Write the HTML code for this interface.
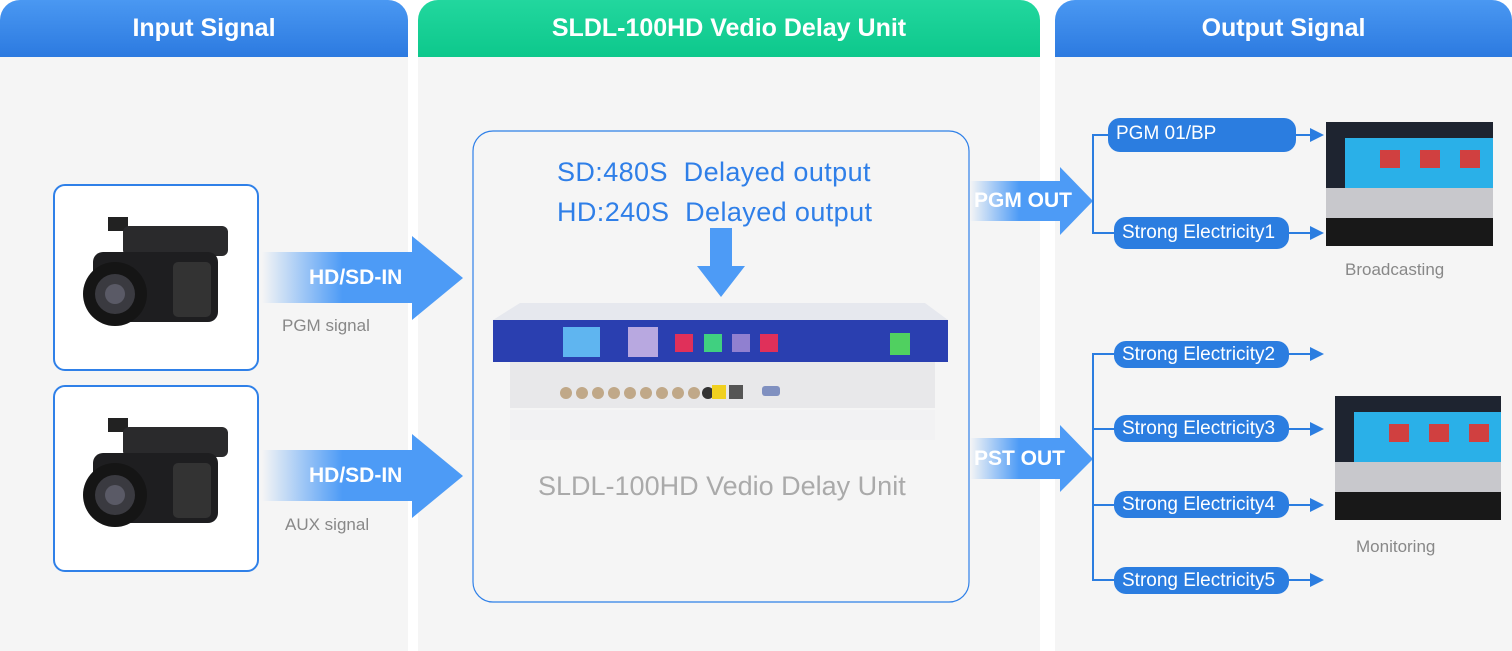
<!DOCTYPE html>
<html><head><meta charset="utf-8"><style>
*{margin:0;padding:0;box-sizing:border-box}
body{width:1512px;height:651px;background:#fff;position:relative;overflow:hidden;font-family:"Liberation Sans",sans-serif}
.a{position:absolute}
.panel{position:absolute;top:0;height:651px;background:#f5f5f5;border-radius:20px 20px 0 0}
.hdr{position:absolute;top:0;left:0;right:0;height:57px;border-radius:20px 20px 0 0;color:#fff;font-weight:bold;font-size:25px;text-align:center;line-height:57px}
.blue{background:linear-gradient(180deg,#4a98f2,#2c7ae0)}
.green{background:linear-gradient(180deg,#22d79e,#0dc88c)}
.cam{position:absolute;left:53px;width:206px;height:187px;border:2px solid #2f80e8;border-radius:12px}
.pill{position:absolute;background:#2b7de0;color:#fff;border-radius:12px;font-size:19px;line-height:32px;padding-left:8px;white-space:nowrap}
.lbl{position:absolute;color:#888;font-size:17px}
.big{position:absolute;color:#fff;font-weight:bold;font-size:21px}
.dt{position:absolute;left:557px;color:#2f7fe8;font-size:27px;letter-spacing:0.4px;white-space:nowrap}
</style></head><body>
<div class="panel" style="left:0;width:408px"><div class="hdr blue">Input Signal</div></div>
<div class="panel" style="left:418px;width:622px"><div class="hdr green">SLDL-100HD Vedio Delay Unit</div></div>
<div class="panel" style="left:1055px;width:457px"><div class="hdr blue">Output Signal</div></div>

<svg class="a" style="left:0;top:0" width="1512" height="651">
<defs>
<linearGradient id="g1" x1="0" x2="1"><stop offset="0" stop-color="#4d9bf6" stop-opacity="0"/><stop offset="0.4" stop-color="#4d9bf6"/><stop offset="1" stop-color="#4d9bf6"/></linearGradient>
<g id="camg">
<rect x="0" y="0" width="206" height="187" rx="12" fill="#fff"/>
<rect x="55" y="33" width="20" height="14" fill="#222"/>
<rect x="70" y="42" width="105" height="30" rx="6" fill="#2a2a2c"/>
<rect x="40" y="68" width="125" height="70" rx="10" fill="#1e1e20"/>
<rect x="120" y="78" width="38" height="55" rx="5" fill="#333"/>
<circle cx="62" cy="110" r="32" fill="#151515"/>
<circle cx="62" cy="110" r="20" fill="#3a3a40"/>
<circle cx="62" cy="110" r="10" fill="#5a5a66"/>
</g>
</defs>
<use href="#camg" x="53" y="184"/>
<use href="#camg" x="53" y="385"/>
<polygon points="262,252 412,252 412,236 463,278 412,320 412,303 262,303" fill="url(#g1)"/>
<polygon points="262,450 412,450 412,434 463,476 412,518 412,501 262,501" fill="url(#g1)"/>
<polygon points="970,181 1060,181 1060,167 1093,201 1060,235 1060,221 970,221" fill="url(#g1)"/>
<polygon points="970,438 1060,438 1060,425 1093,459 1060,492 1060,479 970,479" fill="url(#g1)"/>
<rect x="473" y="131" width="496" height="471" rx="20" fill="none" stroke="#2f80e8" stroke-width="1.2"/>
<rect x="710" y="228" width="22" height="40" fill="#4d9bf6"/>
<polygon points="697,266 745,266 721,297" fill="#4d9bf6"/>
<g stroke="#2b7de0" stroke-width="2" fill="none">
<path d="M1108,135 H1093 V233 H1114"/>
<path d="M1114,354 H1093 V580 H1114 M1093,429 H1114 M1093,505 H1114"/>
<path d="M1296,135 H1312 M1289,233 H1312 M1289,354 H1312 M1289,429 H1312 M1289,505 H1312 M1289,580 H1312"/>
</g>
<g fill="#2b7de0">
<polygon points="1310,128 1324,135 1310,142"/><polygon points="1310,226 1324,233 1310,240"/>
<polygon points="1310,347 1324,354 1310,361"/><polygon points="1310,422 1324,429 1310,436"/>
<polygon points="1310,498 1324,505 1310,512"/><polygon points="1310,573 1324,580 1310,587"/>
</g>
<!-- device -->
<rect x="510" y="360" width="425" height="48" fill="#e8e8ea"/>
<rect x="510" y="410" width="425" height="30" fill="#f0f0f2" opacity="0.6"/>
<polygon points="520,303 925,303 948,320 493,320" fill="#e6e8ee"/>
<rect x="493" y="320" width="455" height="42" fill="#2a3fb0"/>
<rect x="563" y="327" width="37" height="30" fill="#5fb5f0"/>
<rect x="628" y="327" width="30" height="30" fill="#b8a8e0"/>
<rect x="675" y="334" width="18" height="18" fill="#e0305a"/>
<rect x="704" y="334" width="18" height="18" fill="#40d080"/>
<rect x="732" y="334" width="18" height="18" fill="#9080d0"/>
<rect x="760" y="334" width="18" height="18" fill="#e0305a"/>
<rect x="890" y="333" width="20" height="22" fill="#50d060"/>
<g fill="#c0a888"><circle cx="566" cy="393" r="6"/><circle cx="582" cy="393" r="6"/><circle cx="598" cy="393" r="6"/><circle cx="614" cy="393" r="6"/><circle cx="630" cy="393" r="6"/><circle cx="646" cy="393" r="6"/><circle cx="662" cy="393" r="6"/><circle cx="678" cy="393" r="6"/><circle cx="694" cy="393" r="6"/><circle cx="708" cy="393" r="6" fill="#333"/></g>
<rect x="712" y="385" width="14" height="14" fill="#f0d020"/><rect x="729" y="385" width="14" height="14" fill="#555"/>
<rect x="762" y="386" width="18" height="10" rx="3" fill="#8090c0"/>
<!-- studio images -->
<g>
<rect x="1326" y="122" width="167" height="124" fill="#1e2430"/>
<rect x="1345" y="138" width="148" height="50" fill="#2ab0e8"/>
<rect x="1326" y="188" width="167" height="30" fill="#c8c8cc"/>
<rect x="1326" y="218" width="167" height="28" fill="#181818"/>
<rect x="1380" y="150" width="20" height="18" fill="#d04040"/><rect x="1420" y="150" width="20" height="18" fill="#d04040"/><rect x="1460" y="150" width="20" height="18" fill="#d04040"/>
</g>
<g>
<rect x="1335" y="396" width="166" height="124" fill="#1e2430"/>
<rect x="1354" y="412" width="147" height="50" fill="#2ab0e8"/>
<rect x="1335" y="462" width="166" height="30" fill="#c8c8cc"/>
<rect x="1335" y="492" width="166" height="28" fill="#181818"/>
<rect x="1389" y="424" width="20" height="18" fill="#d04040"/><rect x="1429" y="424" width="20" height="18" fill="#d04040"/><rect x="1469" y="424" width="20" height="18" fill="#d04040"/>
</g>
</svg>
<div class="cam" style="top:184px"></div>
<div class="cam" style="top:385px"></div>
<div class="big" style="left:309px;top:266px">HD/SD-IN</div>
<div class="big" style="left:309px;top:464px">HD/SD-IN</div>
<div class="lbl" style="left:282px;top:316px">PGM signal</div>
<div class="lbl" style="left:285px;top:515px">AUX signal</div>
<div class="dt" style="top:157px">SD:480S&nbsp; Delayed output</div>
<div class="dt" style="top:197px">HD:240S&nbsp; Delayed output</div>
<div class="a" style="left:538px;top:471px;color:#aaa;font-size:27px;white-space:nowrap">SLDL-100HD Vedio Delay Unit</div>
<div class="big" style="left:974px;top:189px">PGM OUT</div>
<div class="big" style="left:974px;top:447px">PST OUT</div>
<div class="pill" style="left:1108px;top:118px;width:188px;height:34px">PGM 01/BP</div>
<div class="pill" style="left:1114px;top:217px;width:175px;height:32px">Strong Electricity1</div>
<div class="pill" style="left:1114px;top:341px;width:175px;height:27px;line-height:27px">Strong Electricity2</div>
<div class="pill" style="left:1114px;top:415px;width:175px;height:27px;line-height:27px">Strong Electricity3</div>
<div class="pill" style="left:1114px;top:491px;width:175px;height:27px;line-height:27px">Strong Electricity4</div>
<div class="pill" style="left:1114px;top:567px;width:175px;height:27px;line-height:27px">Strong Electricity5</div>
<div class="lbl" style="left:1345px;top:260px">Broadcasting</div>
<div class="lbl" style="left:1356px;top:537px">Monitoring</div>
</body></html>
